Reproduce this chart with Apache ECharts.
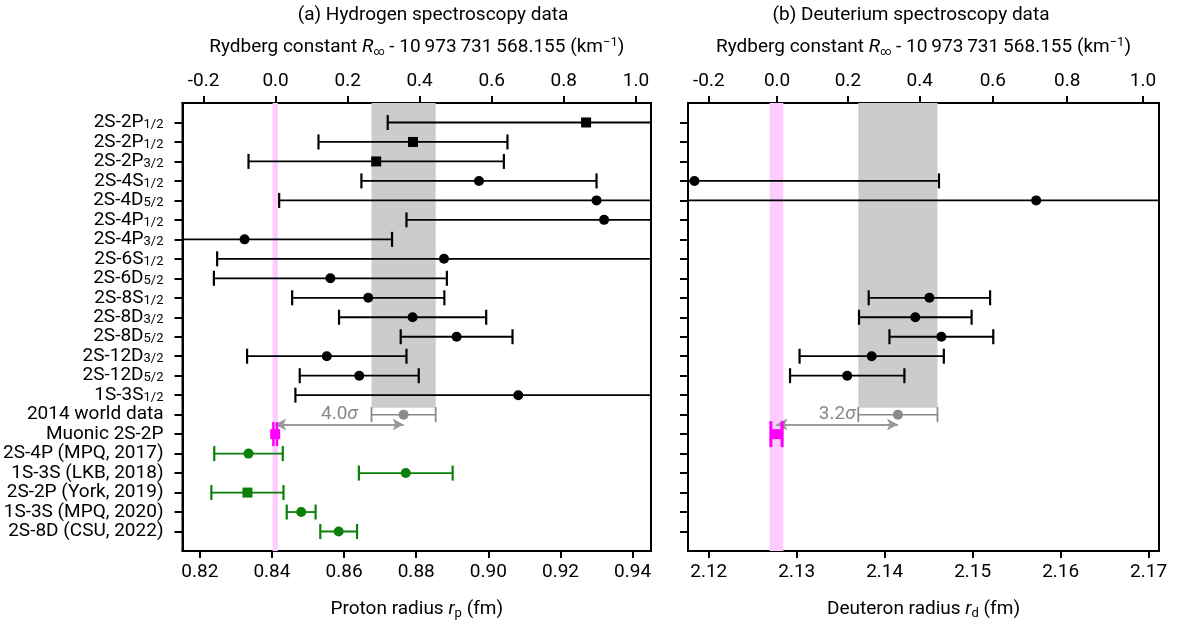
<!DOCTYPE html>
<html><head><meta charset="utf-8">
<script src="https://cdn.jsdelivr.net/npm/echarts@6/dist/echarts.min.js"></script>
<style>html,body{margin:0;padding:0;background:#fff}#c{width:1183px;height:628px}</style>
</head><body><div id="c"></div>
<script>
// ---------- categories (rows, top to bottom) ----------
const rowNames = ['2S-2P','2S-2P','2S-2P','2S-4S','2S-4D','2S-4P','2S-4P','2S-6S','2S-6D','2S-8S','2S-8D','2S-8D','2S-12D','2S-12D','1S-3S','2014 world data','Muonic 2S-2P','2S-4P (MPQ, 2017)','1S-3S (LKB, 2018)','2S-2P (York, 2019)','1S-3S (MPQ, 2020)','2S-8D (CSU, 2022)'];
const rowSubs  = ['1/2','1/2','3/2','1/2','5/2','1/2','3/2','1/2','5/2','1/2','3/2','5/2','3/2','5/2','1/2','','','','','','',''];

// ---------- hydrogen: older data (black) ----------
const hRows   = [0,1,2,3,4,5,6,7,8,9,10,11,12,13,14];
const hValues = [0.9271,0.8791,0.8689,0.8974,0.9300,0.9321,0.8324,0.8877,0.8562,0.8667,0.8790,0.8912,0.8552,0.8642,0.9083];
const hErrors = [0.0550,0.0262,0.0354,0.0326,0.0880,0.0548,0.0409,0.0629,0.0323,0.0211,0.0204,0.0155,0.0221,0.0165,0.0618];
const hShapes = ['square','square','square','circle','circle','circle','circle','circle','circle','circle','circle','circle','circle','circle','circle'];

// ---------- hydrogen: recent data (green) ----------
const newRows   = [17,18,19,20,21];
const newValues = [0.8335,0.8771,0.8332,0.8481,0.8585];
const newErrors = [0.0095,0.0130,0.0100,0.0040,0.0051];
const newShapes = ['circle','circle','square','circle','circle'];

// ---------- hydrogen: world data & muonic ----------
const worldRow = 15, muonRow = 16, arrowRow = 15.5;
const worldH = 0.8765, worldHErr = 0.0089;
const muonH = 0.8409, muonHErr = 0.0005, muonHBand = 0.00073;
const sigmaH = '4.0';

// ---------- deuterium ----------
const dRows   = [3,4,9,10,11,12,13];
const dValues = [2.11837,2.15722,2.14508,2.14348,2.14644,2.13852,2.13574];
const dErrors = [0.0278,0.0500,0.0069,0.0064,0.0059,0.0082,0.0065];
const dShapes = ['circle','circle','circle','circle','circle','circle','circle'];
const worldD = 2.1415, worldDErr = 0.0045;
const muonD = 2.1277, muonDErr = 0.00064, muonDBand = 0.00078;
const sigmaD = '3.2';

// ---------- tick labels ----------
const xTicksH = [0.82,0.84,0.86,0.88,0.90,0.92,0.94];
const xTicksD = [2.12,2.13,2.14,2.15,2.16,2.17];
const rydLabels = ['-0.2','0.0','0.2','0.4','0.6','0.8','1.0'];
const rydPosH = [0.82102,0.84101,0.86103,0.88094,0.90093,0.92092,0.94094];
const rydPosD = [2.12000,2.12777,2.13582,2.14398,2.15229,2.16075,2.16936];
const rowTicks = rowNames.map((_, i) => i);

// ---------- style ----------
const FF = 'Roboto';
const FS = 19;
const black = '#000';
const green = '#0a800a';
const gray = '#8a8a8a';
const magenta = '#ff00ff';

function errSeries(xi, yi, rows, vals, errs, shapes, color, opt) {
  opt = opt || {};
  const capH = opt.capH || 15, lw = opt.lw || 1.8, capW = opt.capW || 2.2, ms = opt.ms || 10;
  return {
    type: 'custom', xAxisIndex: xi, yAxisIndex: yi, clip: true, z: opt.z || 5,
    data: vals.map((v, i) => [v, rows[i], errs[i]]),
    renderItem: function (params, api) {
      const x = api.value(0), y = api.value(1), e = api.value(2);
      const p = api.coord([x, y]);
      const l = api.coord([x - e, y]);
      const r = api.coord([x + e, y]);
      const shape = shapes[params.dataIndex];
      const children = [
        {type: 'line', shape: {x1: l[0], y1: p[1], x2: r[0], y2: p[1]}, style: {stroke: color, lineWidth: lw}},
        {type: 'line', shape: {x1: l[0], y1: p[1] - capH / 2, x2: l[0], y2: p[1] + capH / 2}, style: {stroke: color, lineWidth: capW}},
        {type: 'line', shape: {x1: r[0], y1: p[1] - capH / 2, x2: r[0], y2: p[1] + capH / 2}, style: {stroke: color, lineWidth: capW}}
      ];
      if (shape === 'square') {
        children.push({type: 'rect', shape: {x: p[0] - ms / 2, y: p[1] - ms / 2, width: ms, height: ms}, style: {fill: color}});
      } else {
        children.push({type: 'circle', shape: {cx: p[0], cy: p[1], r: ms / 2}, style: {fill: color}});
      }
      return {type: 'group', children: children};
    }
  };
}

function bandSeries(xi, yi, world, worldErr, muon, muonBand) {
  return {
    type: 'scatter', xAxisIndex: xi, yAxisIndex: yi, data: [], z: 1, silent: true,
    markArea: {
      silent: true,
      data: [
        [{xAxis: world - worldErr, yAxis: -1, itemStyle: {color: '#cccccc'}}, {xAxis: world + worldErr, yAxis: worldRow - 0.35}],
        [{xAxis: muon - muonBand, itemStyle: {color: '#ffccff'}}, {xAxis: muon + muonBand}]
      ]
    }
  };
}

function arrowSeries(xi, yi, muon, world, sig) {
  return {
    type: 'scatter', xAxisIndex: xi, yAxisIndex: yi, data: [], z: 4, silent: true,
    markLine: {
      silent: true,
      symbol: ['arrow', 'arrow'],
      symbolSize: [9, 11],
      lineStyle: {color: '#999999', width: 2, type: 'solid'},
      label: {
        show: true, position: 'middle', distance: 1,
        formatter: '{a|' + sig + '}{b|σ}',
        rich: {
          a: {fontFamily: FF, fontSize: FS, color: '#888888'},
          b: {fontFamily: FF, fontSize: FS, color: '#888888', fontStyle: 'italic'}
        }
      },
      data: [[{coord: [muon, arrowRow]}, {coord: [world, arrowRow]}]]
    }
  };
}

const labelBase = {fontFamily: FF, fontSize: FS, color: black};
const rowLabelRich = {
  m: {fontFamily: FF, fontSize: FS, color: black, lineHeight: 18},
  s: {fontFamily: FF, fontSize: 13, color: black, lineHeight: 8, verticalAlign: 'bottom'}
};
const nameRich = {
  n: {fontFamily: FF, fontSize: FS, color: black, lineHeight: 22},
  i: {fontFamily: FF, fontSize: FS, color: black, lineHeight: 22, fontStyle: 'italic'},
  sub: {fontFamily: FF, fontSize: 13, color: black, lineHeight: 10, verticalAlign: 'bottom'},
  inf: {fontFamily: FF, fontSize: 11, color: black, lineHeight: 8, verticalAlign: 'bottom'},
  sup: {fontFamily: FF, fontSize: 13, color: black, lineHeight: 10, verticalAlign: 'top'}
};
const rydName = '{n|Rydberg constant }{i|R}{inf|∞}{n| - 10\u2009973\u2009731\u2009568.155 (km}{sup|−1}{n|)}';

function bottomAxis(gi, min, max, ticks, name, dec) {
  return {
    type: 'value', gridIndex: gi, position: 'bottom', min: min, max: max,
    axisLine: {show: true, onZero: false, lineStyle: {color: black, width: 2}},
    axisTick: {show: true, customValues: ticks, length: 7, lineStyle: {color: black, width: 2}},
    axisLabel: Object.assign({customValues: ticks, margin: 12, showMinLabel: true, showMaxLabel: true, hideOverlap: false, formatter: v => v.toFixed(dec)}, labelBase),
    splitLine: {show: false},
    name: name, nameLocation: 'middle', nameGap: 47,
    nameTextStyle: {rich: nameRich}
  };
}
function topAxis(gi, min, max, pos) {
  return {
    type: 'value', gridIndex: gi, position: 'top', min: min, max: max,
    axisLine: {show: true, onZero: false, lineStyle: {color: black, width: 2}},
    axisTick: {show: true, customValues: pos, length: 7, lineStyle: {color: black, width: 2}},
    axisLabel: Object.assign({customValues: pos, margin: 12, showMinLabel: true, showMaxLabel: true, hideOverlap: false, formatter: v => {
      const i = pos.findIndex(p => Math.abs(p - v) < 1e-6);
      return i >= 0 ? rydLabels[i] : '';
    }}, labelBase),
    splitLine: {show: false},
    name: rydName, nameLocation: 'middle', nameGap: 45,
    nameTextStyle: {rich: nameRich}
  };
}
function rowAxis(gi, showLabels) {
  return {
    type: 'value', gridIndex: gi, inverse: true, min: -1, max: 22,
    axisLine: {show: true, onZero: false, lineStyle: {color: black, width: 2}},
    axisTick: {show: true, customValues: rowTicks, length: 8, lineStyle: {color: black, width: 2}},
    axisLabel: {
      show: showLabels, customValues: rowTicks, margin: 19, align: 'right',
      showMinLabel: true, showMaxLabel: true, hideOverlap: false,
      formatter: v => {
        const i = Math.round(v);
        if (i < 0 || i >= rowNames.length) return '';
        return rowSubs[i] ? '{m|' + rowNames[i] + '}{s|' + rowSubs[i] + '}' : '{m|' + rowNames[i] + '}';
      },
      rich: rowLabelRich
    },
    splitLine: {show: false}
  };
}

const option = {
  animation: false,
  backgroundColor: '#fff',
  grid: [
    {left: 181, top: 103, width: 470, height: 448, show: true, borderColor: black, borderWidth: 2, backgroundColor: 'transparent'},
    {left: 688, top: 103, width: 471, height: 448, show: true, borderColor: black, borderWidth: 2, backgroundColor: 'transparent'}
  ],
  graphic: [
    {type: 'text', x: 433, y: 15, style: {text: '(a) Hydrogen spectroscopy data', font: FS + 'px ' + FF, fill: black, textAlign: 'center', align: 'center', textVerticalAlign: 'middle', verticalAlign: 'middle'}},
    {type: 'text', x: 911, y: 15, style: {text: '(b) Deuterium spectroscopy data', font: FS + 'px ' + FF, fill: black, textAlign: 'center', align: 'center', textVerticalAlign: 'middle', verticalAlign: 'middle'}}
  ],
  xAxis: [
    bottomAxis(0, 0.8152, 0.9451, xTicksH, '{n|Proton radius }{i|r}{sub|p}{n| (fm)}', 2),
    topAxis(0, 0.8152, 0.9451, rydPosH),
    bottomAxis(1, 2.11764, 2.17118, xTicksD, '{n|Deuteron radius }{i|r}{sub|d}{n| (fm)}', 2),
    topAxis(1, 2.11764, 2.17118, rydPosD)
  ],
  yAxis: [rowAxis(0, true), rowAxis(1, false)],
  series: [
    bandSeries(0, 0, worldH, worldHErr, muonH, muonHBand),
    bandSeries(2, 1, worldD, worldDErr, muonD, muonDBand),
    arrowSeries(0, 0, muonH, worldH, sigmaH),
    arrowSeries(2, 1, muonD, worldD, sigmaD),
    errSeries(0, 0, hRows, hValues, hErrors, hShapes, black),
    errSeries(0, 0, newRows, newValues, newErrors, newShapes, green),
    errSeries(0, 0, [worldRow], [worldH], [worldHErr], ['circle'], gray, {lw: 1.5, capW: 1.8}),
    errSeries(0, 0, [muonRow], [muonH], [muonHErr], ['square'], magenta, {capH: 24, capW: 2.5, lw: 2.5}),
    errSeries(2, 1, dRows, dValues, dErrors, dShapes, black),
    errSeries(2, 1, [worldRow], [worldD], [worldDErr], ['circle'], gray, {lw: 1.5, capW: 1.8}),
    errSeries(2, 1, [muonRow], [muonD], [muonDErr], ['square'], magenta, {capH: 26, capW: 3, lw: 3})
  ]
};

const chart = echarts.init(document.getElementById('c'), null, {renderer: 'canvas'});
chart.setOption(option);
</script>
</body></html>
